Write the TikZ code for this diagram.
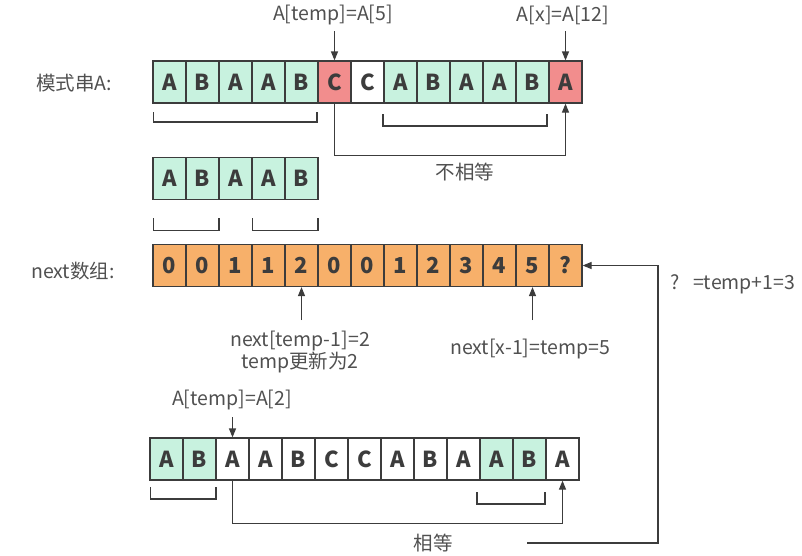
\documentclass[tikz,border=0pt]{standalone}
\usepackage{fontspec}
\setmainfont{Noto Sans CJK SC}
\usetikzlibrary{arrows.meta}
\definecolor{grn}{HTML}{C8F2DF}
\definecolor{redc}{HTML}{F28D8D}
\definecolor{org}{HTML}{F7B06A}
\definecolor{ln}{HTML}{3C3C3C}
\definecolor{txt}{HTML}{505050}
\begin{document}
\begin{tikzpicture}[x=1pt,y=-1pt,
 cell/.style={draw=ln, line width=1.2pt, minimum width=33pt, minimum height=42pt, inner sep=0pt, font=\fontsize{22}{22}\selectfont\bfseries, text=ln, anchor=center},
 lbl/.style={font=\fontsize{19.5}{22}\selectfont, text=txt, inner sep=0pt},
 con/.style={draw=ln, line width=1.2pt},
 arr/.style={con, -{Triangle[length=9pt,width=7pt]}},
 brk/.style={draw=ln, line width=1.2pt}]
\useasboundingbox (0,0) rectangle (802,555);
% top row
\node[lbl] (lA) at (74,83) {模式串A:};
\foreach \t/\c [count=\i from 0] in {A/grn,B/grn,A/grn,A/grn,B/grn,C/redc,C/white,A/grn,B/grn,A/grn,A/grn,B/grn,A/redc}
  \node[cell, fill=\c] (t\i) at (169.5+33*\i,82) {\t};
\node[lbl] (l5) at (333,15) {A[temp]=A[5]};
\node[lbl] (l12) at (563,15) {A[x]=A[12]};
\draw[arr] ([yshift=29pt]t5.north) -- (t5.north);
\draw[arr] ([yshift=29pt]t12.north) -- (t12.north);
\draw[brk] (153.7,112) |- (317,122) -- (317,112);
\draw[brk] (383,114) |- (547,126) -- (547,114);
\draw[arr] (t5.south) -- ++(0,52) -| (t12.south);
\node[lbl] (lne) at (465,172) {不相等};
% middle row
\foreach \t [count=\i from 0] in {A,B,A,A,B}
  \node[cell, fill=grn] (m\i) at (169.5+33*\i,178.5) {\t};
\draw[brk] (153.7,218) |- (219,230.5) -- (219,218);
\draw[brk] (252.5,218) |- (318,230.5) -- (318,218);
% next array
\node[lbl] (lN) at (73,271) {next数组:};
\foreach \t [count=\i from 0] in {0,0,1,1,2,0,0,1,2,3,4,5,?}
  \node[cell, fill=org] (n\i) at (169.5+33*\i,265.5) {\t};
\draw[arr] ([yshift=-33pt]n4.south) -- (n4.south);
\draw[arr] ([yshift=-33pt]n11.south) -- (n11.south);
\node[lbl, align=center] (l3) at (300,352) {next[temp-1]=2\\temp更新为2};
\node[lbl] (l4) at (530,349) {next[x-1]=temp=5};
\node[lbl] (lq) at (733,284) {?\ \ \ =temp+1=3};
% bottom row
\foreach \t/\c [count=\i from 0] in {A/grn,B/grn,A/white,A/white,B/white,C/white,C/white,A/white,B/white,A/white,A/grn,B/grn,A/white}
  \node[cell, fill=\c] (b\i) at (166.5+33*\i,459) {\t};
\node[lbl] (l2) at (232,400) {A[temp]=A[2]};
\draw[arr] ([yshift=20pt]b2.north) -- (b2.north);
\draw[brk] (150.5,487) |- (216,499) -- (216,487);
\draw[brk] (477,492) |- (545,504) -- (545,492);
\draw[arr] (b2.south) -- ++(0,43) -| (b12.south);
\node[lbl] (leq) at (433,543) {相等};
\coordinate (s) at (527,543);
\draw[arr] (s) -- (658,543) |- (n12.east);
\end{tikzpicture}
\end{document}
